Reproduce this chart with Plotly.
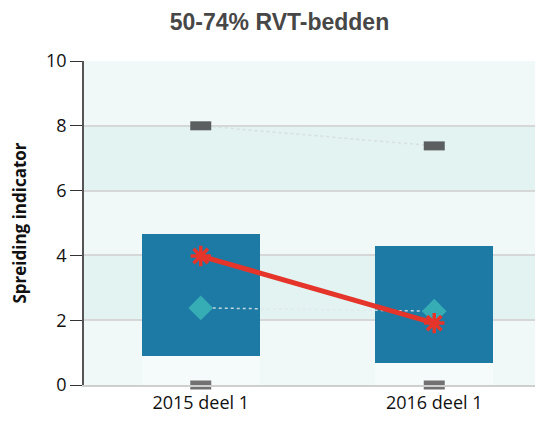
import plotly.graph_objects as go

categories = ["2015 deel 1", "2016 deel 1"]
box_low = [0.9, 0.68]
box_high = [4.66, 4.29]
max_vals = [8.0, 7.38]
min_vals = [0.0, 0.0]
median_vals = [2.38, 2.28]
indicator_vals = [3.98, 1.91]
y_ticks = [0, 2, 4, 6, 8, 10]

xpos = list(range(len(categories)))
bar_w = 0.506

fig = go.Figure()

# light base segment (transparent-ish) below the box
fig.add_trace(go.Bar(x=xpos, y=box_low, width=bar_w,
                     marker=dict(color="rgba(255,255,255,0.35)", line=dict(width=0)),
                     hoverinfo="skip", showlegend=False))
# box from low to high
fig.add_trace(go.Bar(x=xpos, y=[h - l for h, l in zip(box_high, box_low)], base=box_low,
                     width=bar_w, marker=dict(color="#1c7aa5", line=dict(width=0)),
                     showlegend=False))

# max dashes with faint dotted connector
fig.add_trace(go.Scatter(x=xpos, y=max_vals, mode="lines",
                         line=dict(color="rgba(215,222,222,0.9)", width=1.5, dash="dot"),
                         showlegend=False, hoverinfo="skip"))
fig.add_trace(go.Scatter(x=xpos, y=max_vals, mode="markers",
                         marker=dict(symbol="line-ew", size=15, color="#5b5f60",
                                     line=dict(width=9, color="#5b5f60")),
                         showlegend=False, cliponaxis=False))
fig.add_trace(go.Scatter(x=xpos, y=min_vals, mode="markers",
                         marker=dict(symbol="line-ew", size=15, color="#727272",
                                     line=dict(width=9, color="#727272")),
                         showlegend=False, cliponaxis=False))

# median diamonds with dotted connector
fig.add_trace(go.Scatter(x=xpos, y=median_vals, mode="lines",
                         line=dict(color="rgba(225,232,235,0.85)", width=1.5, dash="dot"),
                         showlegend=False, hoverinfo="skip"))
fig.add_trace(go.Scatter(x=xpos, y=median_vals, mode="markers",
                         marker=dict(symbol="diamond", size=19, color="#36adb4",
                                     line=dict(width=0)),
                         showlegend=False))

# indicator red line with asterisks
fig.add_trace(go.Scatter(x=xpos, y=indicator_vals, mode="lines+markers",
                         line=dict(color="#e5352a", width=5),
                         marker=dict(symbol="asterisk-open", size=17,
                                     line=dict(width=3.5, color="#e5352a"), color="#e5352a"),
                         showlegend=False))

# alternating bands
for y0, y1 in [(2, 4), (6, 8)]:
    fig.add_shape(type="rect", xref="paper", yref="y", x0=0, x1=1, y0=y0, y1=y1,
                  fillcolor="#e2f3f2", line=dict(width=0), layer="below")

fig.update_layout(
    width=543, height=421,
    margin=dict(l=76, r=0, t=53, b=44, autoexpand=False),
    paper_bgcolor="white",
    plot_bgcolor="#f0f8f8",
    barmode="stack",
    bargap=0,
    title=dict(text="<b>50-74% RVT-bedden</b>", x=0.5, xanchor="center", y=0.985, yanchor="top",
               pad=dict(t=0, b=0, l=0, r=0),
               font=dict(family="Liberation Sans, Arial, sans-serif", size=23, color="#474747")),
    font=dict(family="Open Sans, sans-serif", size=18, color="#111111"),
    xaxis=dict(range=[-0.5, 1.5], tickvals=xpos, ticktext=categories, automargin=False,
               showgrid=False, zeroline=False, showline=True, linecolor="#cfcfcf", linewidth=2,
               ticks="", tickfont=dict(size=18, color="#111111")),
    yaxis=dict(range=[0, 10], tickvals=y_ticks, showgrid=True, gridcolor="#d6d8d8", gridwidth=1.5,
               automargin=False,
               zeroline=False, showline=True, linecolor="#555555", linewidth=1.5,
               ticks="outside", ticklen=12, tickcolor="#333333", tickwidth=1,
               tickfont=dict(size=18, color="#111111"),
               title=dict(text="<b>Spreiding indicator</b>", font=dict(size=17, color="#111111"),
                          standoff=18)),
)

fig.write_html("out.html")
